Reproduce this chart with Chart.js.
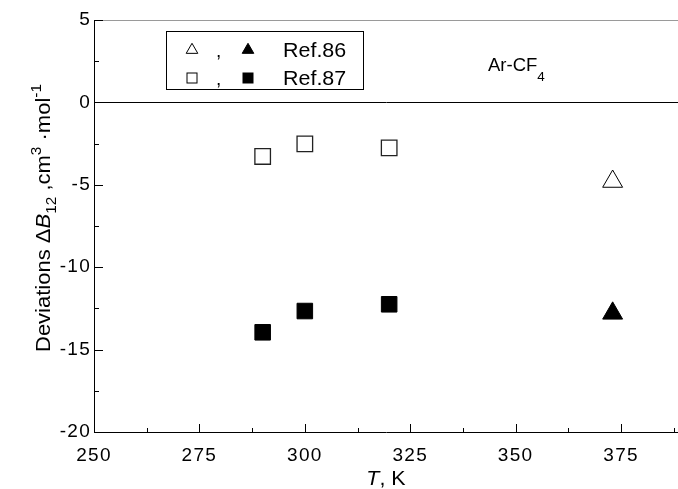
<!DOCTYPE html>
<html><head><meta charset="utf-8">
<script src="https://cdn.jsdelivr.net/npm/chart.js@4/dist/chart.umd.min.js"></script>
<style>html,body{margin:0;padding:0;background:#fff;}#wrap{width:678px;height:489px;}canvas{display:block;}</style>
</head><body><div id="wrap"><canvas id="c" width="678" height="489"></canvas></div>
<script>
// ---- data ----
const tempsRef87 = [290, 300, 320];
const ref87Open = [-3.28, -2.52, -2.76];
const ref87Filled = [-13.95, -12.66, -12.25];
const tempsRef86 = [373];
const ref86Open = [-4.8];
const ref86Filled = [-12.8];
const xMajorTicks = [250, 275, 300, 325, 350, 375];
const yMajorTicks = [5, 0, -5, -10, -15, -20];
const legendLabels = ['Ref.86', 'Ref.87'];
const annotationText = 'Ar-CF';
const annotationSub = '4';

const FONT = '"Liberation Sans", Arial, sans-serif';
const SPACING = '1.3px';

function withMinors(majors, step, extraEnd) {
  const sorted = [...majors].sort((a, b) => a - b);
  const out = [];
  for (let i = 0; i < sorted.length; i++) {
    out.push(sorted[i]);
    if (i < sorted.length - 1 || extraEnd) out.push(sorted[i] + step / 2);
  }
  return out;
}
const xAllTicks = withMinors(xMajorTicks, 25, true);
const yAllTicks = withMinors(yMajorTicks, 5, false);

function fontStr(s) { return (s.it ? 'italic ' : '') + s.s + 'px ' + FONT; }
// opt.rot: rotation; opt.tx: stretch along text direction; opt.ty: stretch across text
function drawRich(ctx, segs, x, y, opt) {
  opt = opt || {};
  ctx.save();
  ctx.letterSpacing = '0px';
  let w = 0;
  segs.forEach(s => { ctx.font = fontStr(s); w += ctx.measureText(s.t).width; });
  ctx.translate(x, y);
  if (opt.rot) ctx.rotate(opt.rot);
  ctx.scale(opt.tx || 1, opt.ty || 1);
  let cx = opt.align === 'center' ? -w / 2 : 0;
  ctx.fillStyle = '#000';
  ctx.textBaseline = 'alphabetic';
  ctx.textAlign = 'left';
  segs.forEach(s => {
    ctx.font = fontStr(s);
    ctx.fillText(s.t, cx, s.dy || 0);
    cx += ctx.measureText(s.t).width;
  });
  ctx.restore();
}
function tri(ctx, x, y, r, fill) {
  ctx.beginPath();
  ctx.moveTo(x, y - r);
  ctx.lineTo(x + 0.866 * r, y + r / 2);
  ctx.lineTo(x - 0.866 * r, y + r / 2);
  ctx.closePath();
  ctx.fillStyle = fill ? '#000' : '#fff';
  ctx.fill();
  ctx.strokeStyle = '#000';
  ctx.lineWidth = 1;
  ctx.stroke();
}
function sq(ctx, x, y, h, fill) {
  ctx.fillStyle = fill ? '#000' : '#fff';
  ctx.fillRect(x - h, y - h, 2 * h, 2 * h);
  ctx.strokeStyle = '#000';
  ctx.lineWidth = 1;
  ctx.strokeRect(x - h, y - h, 2 * h, 2 * h);
}

const deco = {
  id: 'deco',
  beforeUpdate(chart) { chart.ctx.letterSpacing = SPACING; },
  beforeDraw(chart) { chart.ctx.letterSpacing = SPACING; },
  afterDraw(chart) {
    const ctx = chart.ctx;
    const { left, right, top, bottom } = chart.chartArea;
    const xs = chart.scales.x, ys = chart.scales.y;
    ctx.save();
    ctx.letterSpacing = '0px';
    // light top frame line
    ctx.strokeStyle = '#9a9a9a';
    ctx.lineWidth = 1;
    ctx.beginPath(); ctx.moveTo(left, top + 0.5); ctx.lineTo(right, top + 0.5); ctx.stroke();
    // inward ticks
    ctx.strokeStyle = '#000';
    ctx.beginPath();
    xs.ticks.forEach(t => {
      const px = Math.round(xs.getPixelForValue(t.value)) + 0.5;
      const len = xMajorTicks.includes(t.value) ? 8 : 4;
      ctx.moveTo(px, bottom); ctx.lineTo(px, bottom - len);
    });
    ys.ticks.forEach(t => {
      const py = Math.round(ys.getPixelForValue(t.value)) + 0.5;
      const len = yMajorTicks.includes(t.value) ? 9 : 5;
      ctx.moveTo(left, py); ctx.lineTo(left + len, py);
    });
    ctx.stroke();
    // y title
    drawRich(ctx, [
      { t: 'Deviations ', s: 20 },
      { t: '\u0394', s: 20 },
      { t: 'B', s: 20, it: true },
      { t: '12', s: 14, dy: 6 },
      { t: ' ,cm', s: 20 },
      { t: '3', s: 14, dy: -9 },
      { t: ' \u00b7mol', s: 20 },
      { t: '-1', s: 14, dy: -9 }
    ], 50, 218, { rot: -Math.PI / 2, align: 'center', tx: 1.1, ty: 1.05 });
    // x title
    drawRich(ctx, [
      { t: 'T', s: 19.5, it: true },
      { t: ', K', s: 19.5 }
    ], 386, 485, { align: 'center', tx: 1.1 });
    // annotation
    drawRich(ctx, [
      { t: annotationText, s: 18.5 },
      { t: annotationSub, s: 13.5, dy: 10 }
    ], 488, 71, {});
    // legend box
    ctx.strokeStyle = '#000';
    ctx.lineWidth = 1;
    ctx.strokeRect(166.5, 31.5, 197, 58);
    tri(ctx, 192, 50, 6.7, false);
    tri(ctx, 248, 50, 6.7, true);
    sq(ctx, 192, 78, 5, false);
    sq(ctx, 248, 78, 5, true);
    drawRich(ctx, [{ t: ',', s: 19 }], 216, 57, {});
    drawRich(ctx, [{ t: ',', s: 19 }], 216, 85, {});
    drawRich(ctx, [{ t: legendLabels[0], s: 19.5 }], 283, 57, { tx: 1.1 });
    drawRich(ctx, [{ t: legendLabels[1], s: 19.5 }], 283, 85, { tx: 1.1 });
    ctx.restore();
  }
};

const pts = (xs, ys) => xs.map((x, i) => ({ x: x, y: ys[i] }));

new Chart(document.getElementById('c'), {
  type: 'scatter',
  data: {
    datasets: [
      { label: 'Ref.86 (open)', data: pts(tempsRef86, ref86Open), pointStyle: 'triangle', pointRadius: 11.5, backgroundColor: '#fff', borderColor: '#000', borderWidth: 1 },
      { label: 'Ref.86 (filled)', data: pts(tempsRef86, ref86Filled), pointStyle: 'triangle', pointRadius: 11.5, backgroundColor: '#000', borderColor: '#000', borderWidth: 1 },
      { label: 'Ref.87 (open)', data: pts(tempsRef87, ref87Open), pointStyle: 'rect', pointRadius: 11, backgroundColor: '#fff', borderColor: '#222', borderWidth: 1.3 },
      { label: 'Ref.87 (filled)', data: pts(tempsRef87, ref87Filled), pointStyle: 'rect', pointRadius: 11, backgroundColor: '#000', borderColor: '#000', borderWidth: 1 }
    ]
  },
  options: {
    responsive: false,
    animation: false,
    devicePixelRatio: 1,
    events: [],
    layout: { autoPadding: false, padding: { top: 20, right: 0, left: 0, bottom: 0 } },
    plugins: { legend: { display: false }, tooltip: { enabled: false } },
    scales: {
      x: {
        type: 'linear', min: 250, max: 388.5,
        afterBuildTicks: s => { s.ticks = xAllTicks.map(v => ({ value: v })); },
        afterFit: s => { s.height = 57; s.paddingRight = 0; s.paddingLeft = 0; },
        grid: { display: false, drawTicks: false },
        border: { display: true, color: '#000', width: 1 },
        ticks: { autoSkip: false, maxRotation: 0, padding: 12, color: '#000', font: { family: FONT, size: 19 },
          callback: v => xMajorTicks.includes(v) ? String(v) : '' }
      },
      y: {
        type: 'linear', min: -20, max: 5,
        afterBuildTicks: s => { s.ticks = yAllTicks.map(v => ({ value: v })); },
        afterFit: s => { s.width = 94; s.paddingTop = 0; s.paddingBottom = 0; },
        grid: { display: true, drawOnChartArea: true, drawTicks: false,
          color: c => (c.tick && c.tick.value === 0) ? '#000' : 'rgba(0,0,0,0)', lineWidth: 1 },
        border: { display: true, color: '#000', width: 1 },
        ticks: { autoSkip: false, padding: 3, color: '#000', font: { family: FONT, size: 19 },
          callback: v => yMajorTicks.includes(v) ? String(v) : '' }
      }
    }
  },
  plugins: [deco]
});
</script>
</body></html>
